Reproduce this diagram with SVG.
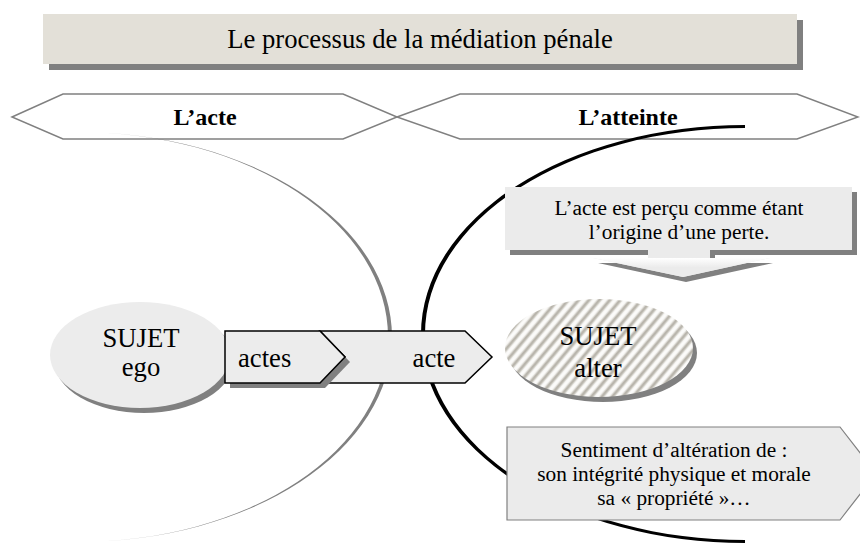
<svg xmlns="http://www.w3.org/2000/svg" width="860" height="543" viewBox="0 0 860 543">
<style>
  text { font-family: "Liberation Serif", "Times New Roman", serif; fill: #000; }
  .hex { fill: #ffffff; stroke: #808080; stroke-width: 1.5; }
  .shadow { fill: #808080; }
  .t20 { font-size: 26.67px; text-anchor: middle; }
  .t16 { font-size: 21.33px; text-anchor: middle; }
  .hb { font-size: 24px; font-weight: bold; text-anchor: middle; }
</style>
<defs>
  <linearGradient id="stripeGrad" x1="0" y1="0" x2="1" y2="0">
    <stop offset="0" stop-color="#ffffff"/>
    <stop offset="0.2" stop-color="#f4f3f0"/>
    <stop offset="0.45" stop-color="#b5b1a8"/>
    <stop offset="0.6" stop-color="#bcb9b0"/>
    <stop offset="0.8" stop-color="#f4f3f0"/>
    <stop offset="1" stop-color="#ffffff"/>
  </linearGradient>
  <pattern id="hatch" patternUnits="userSpaceOnUse" width="8" height="8" patternTransform="rotate(40)">
    <rect width="8" height="8" fill="url(#stripeGrad)"/>
  </pattern>
  <linearGradient id="headGrad" x1="0" y1="0" x2="0" y2="1">
    <stop offset="0" stop-color="#ffffff"/>
    <stop offset="0.5" stop-color="#ebebeb"/>
    <stop offset="1" stop-color="#ebebeb"/>
  </linearGradient>
</defs>

<g id="title">
  <rect class="shadow" x="49" y="20" width="754" height="50"/>
  <rect x="43" y="14" width="754" height="50" fill="#e3e0d8"/>
  <text class="t20" x="420" y="48">Le processus de la médiation pénale</text>
</g>

<g id="hex-acte">
  <polygon class="hex" points="12,117 63,94 343,94 397,117 343,139 63,139"/>
  <text class="hb" x="205" y="125">L’acte</text>
</g>
<g id="hex-atteinte">
  <polygon class="hex" points="397,117 460,94 797,94 858,117 797,139 460,139"/>
  <text class="hb" x="628" y="125">L’atteinte</text>
</g>

<g id="connectors">
  <path d="M78,132 A314,205 0 0 1 78,542 A310,205 0 0 0 78,132 Z" fill="#808080"/>
  <path d="M745,125 A324,209 0 0 0 745,543 L745,540 A320,206 0 0 1 745,128 Z" fill="#000000"/>
</g>

<g id="callout-perte">
  <path class="shadow" d="M510,192 H857 V255 H715 V263 H773 L686,282 L598,263 H653 V255 H510 Z"/>
  <path d="M505,187 H852 V250 H710 V258 H770 L683,277 L593,258 H648 V250 H505 Z" fill="#ebebeb"/>
  <polygon points="593,258 770,258 683,277" fill="url(#headGrad)"/>
  <text class="t16" x="679" y="215">L’acte est perçu comme étant</text>
  <text class="t16" x="679" y="239">l’origine d’une perte.</text>
</g>

<g id="sujet-ego">
  <ellipse class="shadow" cx="144" cy="360" rx="90" ry="53"/>
  <ellipse cx="140" cy="355" rx="90" ry="53" fill="#ececec"/>
  <text class="t20" x="141" y="347">SUJET</text>
  <text class="t20" x="141" y="376">ego</text>
</g>

<g id="acte">
  <polygon points="320,331 465,331 492,357 465,383 320,383 345,357" fill="#ececec" stroke="#000" stroke-width="1.5"/>
  <text class="t20" x="434" y="367">acte</text>
</g>

<g id="actes">
  <polygon class="shadow" points="230,336 325,336 350,362 325,388 230,388"/>
  <polygon points="225,331 320,331 345,357 320,383 225,383" fill="#ececec" stroke="#000" stroke-width="1.5"/>
  <text x="238" y="367" style="font-size:26.67px">actes</text>
</g>

<g id="sujet-alter">
  <ellipse class="shadow" cx="603" cy="353" rx="94" ry="49"/>
  <ellipse cx="599" cy="348" rx="94" ry="49" fill="url(#hatch)"/>
  <text class="t20" x="598" y="345">SUJET</text>
  <text class="t20" x="598" y="377">alter</text>
</g>

<g id="sentiment">
  <polygon points="507,427 840,427 876,473.5 840,520 507,520" fill="#ebebeb" stroke="#808080" stroke-width="1.2"/>
  <text class="t16" x="674" y="457">Sentiment d’altération de :</text>
  <text class="t16" x="674" y="481">son intégrité physique et morale</text>
  <text class="t16" x="674" y="505">sa « propriété »…</text>
</g>
</svg>
